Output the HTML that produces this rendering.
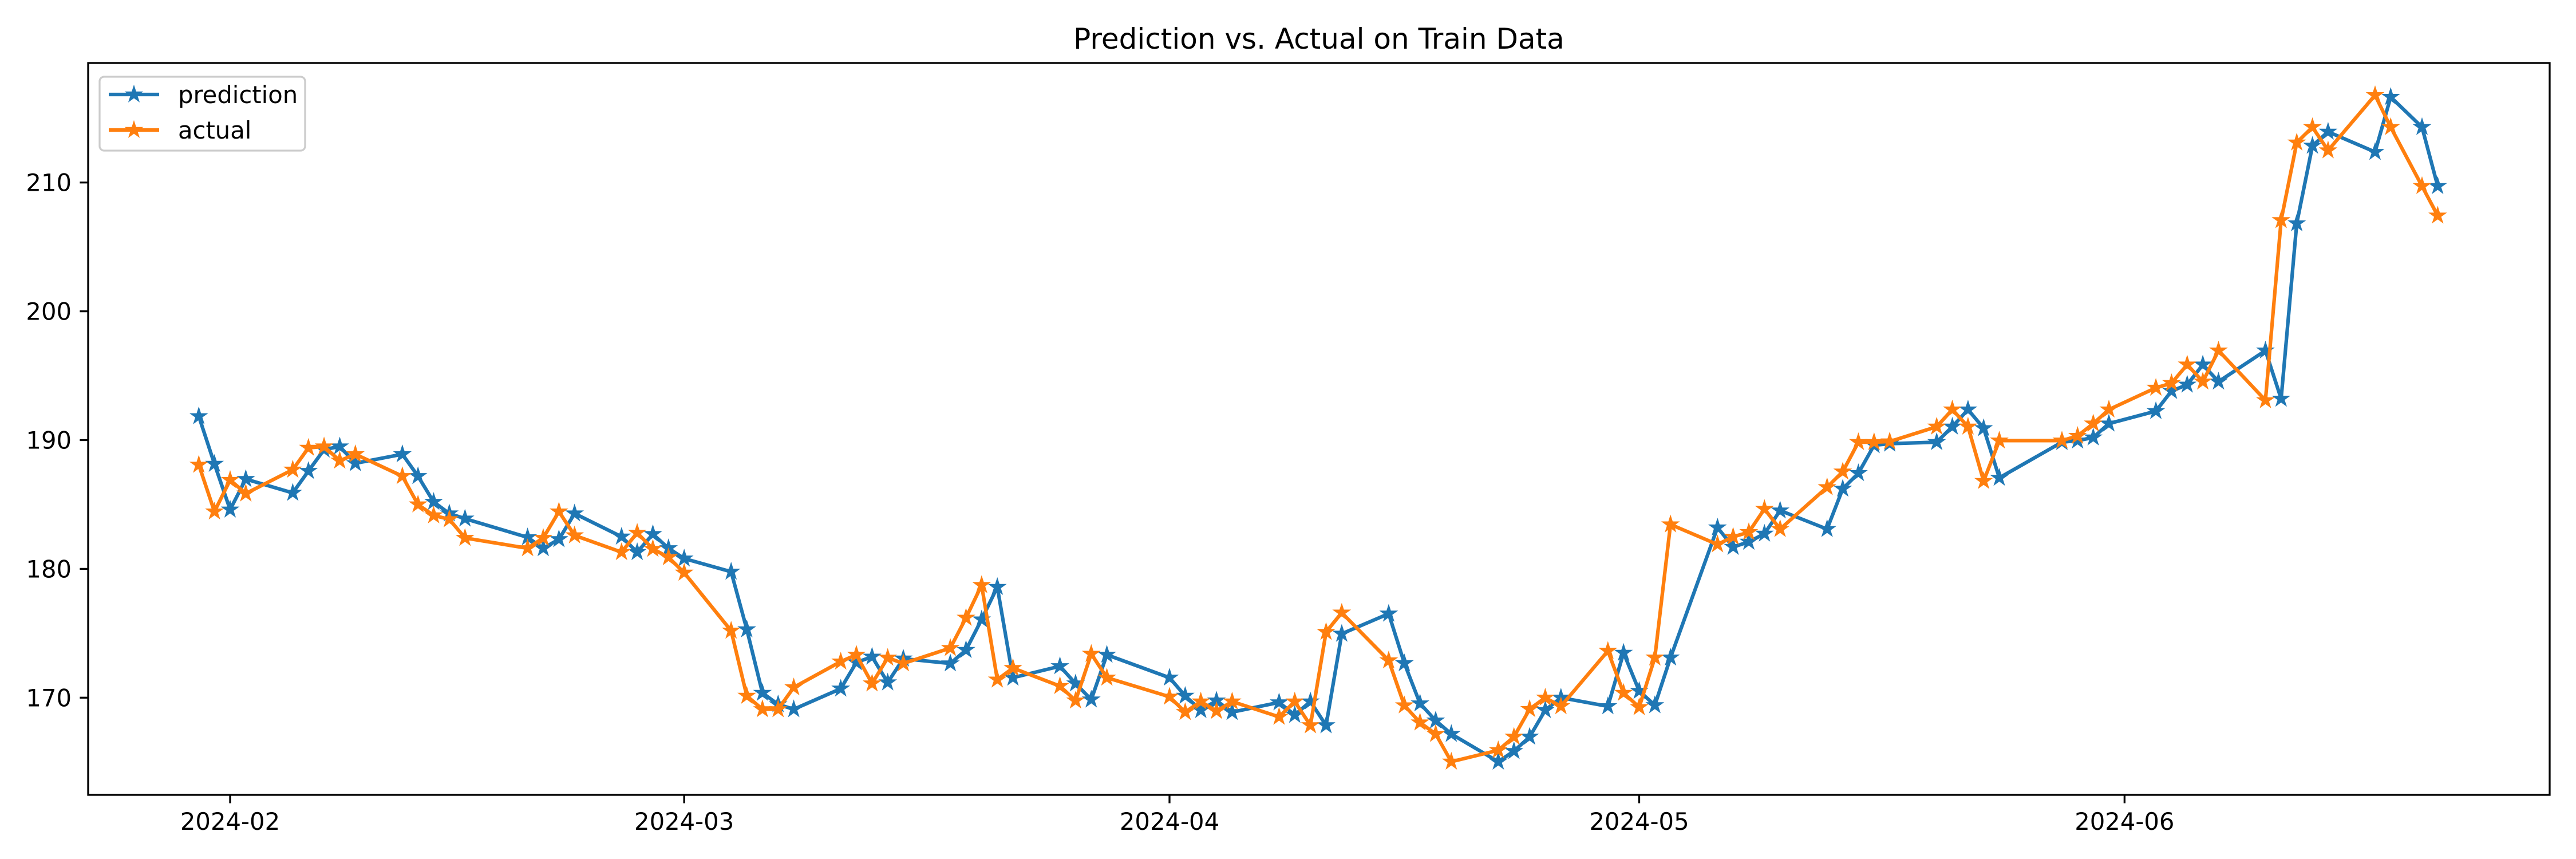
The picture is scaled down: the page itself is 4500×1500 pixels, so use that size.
<!DOCTYPE html>
<html><head><meta charset="utf-8">
<style>
html,body{margin:0;padding:0;background:#fff;}
svg{display:block;font-family:"DejaVu Sans","Liberation Sans",sans-serif;}
</style></head>
<body>
<svg id="chart" width="4500" height="1500" viewBox="0 0 4500 1500" xmlns="http://www.w3.org/2000/svg">
<rect width="4500" height="1500" fill="#fff"/>
<text x="2304" y="85" font-size="50" text-anchor="middle" fill="#000">Prediction vs. Actual on Train Data</text>
<g id="grid"></g>
<g id="series"></g>
<rect x="154" y="110" width="4300" height="1278" fill="none" stroke="#000" stroke-width="3.3"/>
<g id="axes"></g>
<g id="legend">
<rect x="174" y="134" width="359" height="129" rx="8" fill="#fff" fill-opacity="0.8" stroke="#cccccc" stroke-width="3.3"/>
<g>
<line x1="190" y1="165" x2="278" y2="165" stroke="#1f77b4" stroke-width="6.25"/>
<text x="311" y="180" font-size="41.7" fill="#000">prediction</text>
</g>
<g>
<line x1="190" y1="227" x2="278" y2="227" stroke="#ff7f0e" stroke-width="6.25"/>
<text x="311" y="242" font-size="41.7" fill="#000">actual</text>
</g>
</g>
</svg>
<script>
const dates = ["2024-01-30","2024-01-31","2024-02-01","2024-02-02","2024-02-05","2024-02-06","2024-02-07","2024-02-08","2024-02-09","2024-02-12","2024-02-13","2024-02-14","2024-02-15","2024-02-16","2024-02-20","2024-02-21","2024-02-22","2024-02-23","2024-02-26","2024-02-27","2024-02-28","2024-02-29","2024-03-01","2024-03-04","2024-03-05","2024-03-06","2024-03-07","2024-03-08","2024-03-11","2024-03-12","2024-03-13","2024-03-14","2024-03-15","2024-03-18","2024-03-19","2024-03-20","2024-03-21","2024-03-22","2024-03-25","2024-03-26","2024-03-27","2024-03-28","2024-04-01","2024-04-02","2024-04-03","2024-04-04","2024-04-05","2024-04-08","2024-04-09","2024-04-10","2024-04-11","2024-04-12","2024-04-15","2024-04-16","2024-04-17","2024-04-18","2024-04-19","2024-04-22","2024-04-23","2024-04-24","2024-04-25","2024-04-26","2024-04-29","2024-04-30","2024-05-01","2024-05-02","2024-05-03","2024-05-06","2024-05-07","2024-05-08","2024-05-09","2024-05-10","2024-05-13","2024-05-14","2024-05-15","2024-05-16","2024-05-17","2024-05-20","2024-05-21","2024-05-22","2024-05-23","2024-05-24","2024-05-28","2024-05-29","2024-05-30","2024-05-31","2024-06-03","2024-06-04","2024-06-05","2024-06-06","2024-06-07","2024-06-10","2024-06-11","2024-06-12","2024-06-13","2024-06-14","2024-06-17","2024-06-18","2024-06-20","2024-06-21"];
const actual = [188.08,184.45,186.9,185.85,187.7,189.4,189.5,188.4,188.9,187.2,185.0,184.15,183.85,182.4,181.6,182.4,184.45,182.6,181.3,182.8,181.55,180.9,179.7,175.2,170.14,169.1,169.1,170.8,172.8,173.33,171.1,173.1,172.66,173.85,176.2,178.74,171.4,172.3,170.9,169.77,173.4,171.55,170.07,168.88,169.7,168.96,169.7,168.51,169.7,167.85,175.1,176.6,172.89,169.4,168.07,167.18,165.03,165.92,166.96,169.11,170.0,169.33,173.63,170.37,169.26,173.11,183.45,181.9,182.49,182.85,184.65,183.09,186.34,187.55,189.84,189.84,189.89,191.04,192.37,191.04,186.82,189.96,189.96,190.32,191.28,192.37,194.06,194.42,195.86,194.54,196.95,193.09,207.07,213.1,214.3,212.49,216.78,214.3,209.72,207.43];
const prediction = [191.85,188.15,184.6,186.97,185.9,187.6,189.26,189.5,188.2,188.9,187.2,185.2,184.3,183.9,182.45,181.6,182.3,184.3,182.5,181.3,182.7,181.6,180.8,179.78,175.3,170.37,169.48,169.1,170.7,172.74,173.18,171.18,173.03,172.66,173.7,176.07,178.59,171.55,172.44,171.1,169.85,173.33,171.55,170.14,169.03,169.77,168.88,169.63,168.66,169.7,167.85,174.96,176.52,172.67,169.55,168.22,167.18,165.03,165.85,166.96,169.03,170.0,169.33,173.48,170.52,169.41,173.11,183.21,181.7,182.1,182.73,184.53,183.09,186.22,187.43,189.6,189.72,189.84,191.04,192.37,190.92,187.07,189.84,189.96,190.2,191.28,192.25,193.81,194.3,195.86,194.54,196.95,193.21,206.83,212.85,213.94,212.37,216.64,214.3,209.72];
const yTicks = [170,180,190,200,210];
const xTickLabels = ["2024-02","2024-03","2024-04","2024-05","2024-06"];

const NS = "http://www.w3.org/2000/svg";
const DAY0 = Date.UTC(2024,1,1);
function dayOf(s){const p=s.split("-");return (Date.UTC(+p[0],+p[1]-1,+(p[2]||1))-DAY0)/86400000;}
function xScale(s){return 402 + dayOf(s)*27.35;}
function yScale(v){return 318.7 + (210 - v)*22.49;}
function mk(tag, attrs, parent){const e=document.createElementNS(NS,tag);for(const k in attrs)e.setAttribute(k,attrs[k]);parent.appendChild(e);return e;}

const axes = document.getElementById("axes");
yTicks.forEach(v=>{
  const y = yScale(v);
  const t = mk("line",{x1:154-14.6,x2:154,y1:y,y2:y,stroke:"#000","stroke-width":3.3},axes);
  
  
  const lb = mk("text",{x:125,y:y+15,"font-size":41.7,"text-anchor":"end",fill:"#000"},axes);
  
  
  lb.textContent = v;
});
xTickLabels.forEach(s=>{
  const x = xScale(s);
  const t = mk("line",{x1:x,x2:x,y1:1388,y2:1388+14.6,stroke:"#000","stroke-width":3.3},axes);
  
  
  const lb = mk("text",{x:x,y:1449,"font-size":41.7,"text-anchor":"middle",fill:"#000"},axes);
  
  
  lb.textContent = s;
});

function starPath(cx,cy,R){
  const r=R*0.381966;let d="";
  for(let i=0;i<10;i++){const a=-Math.PI/2+i*Math.PI/5;const rr=i%2?r:R;
    d+=(i?"L":"M")+(cx+rr*Math.cos(a)).toFixed(1)+","+(cy+rr*Math.sin(a)).toFixed(1);}
  return d+"Z";
}
const series = document.getElementById("series");
function drawSeries(vals,color,name){
  const g = mk("g",{},series);
  
  
  const pts = vals.map((v,i)=>xScale(dates[i]).toFixed(1)+","+yScale(v).toFixed(1)).join(" ");
  const pl = mk("polyline",{points:pts,fill:"none",stroke:color,"stroke-width":6.25,"stroke-linejoin":"round","stroke-linecap":"square"},g);
  
  
  vals.forEach((v,i)=>{
    const p = mk("path",{d:starPath(xScale(dates[i]),yScale(v),14),fill:color,stroke:color,"stroke-width":2},g);
    
    
  });
}
drawSeries(prediction,"#1f77b4","prediction");
drawSeries(actual,"#ff7f0e","actual");
// legend markers
const lg = document.getElementById("legend");
const m1 = mk("path",{d:starPath(234,165,14),fill:"#1f77b4",stroke:"#1f77b4","stroke-width":2},lg);


const m2 = mk("path",{d:starPath(234,227,14),fill:"#ff7f0e",stroke:"#ff7f0e","stroke-width":2},lg);


</script>
</body></html>
